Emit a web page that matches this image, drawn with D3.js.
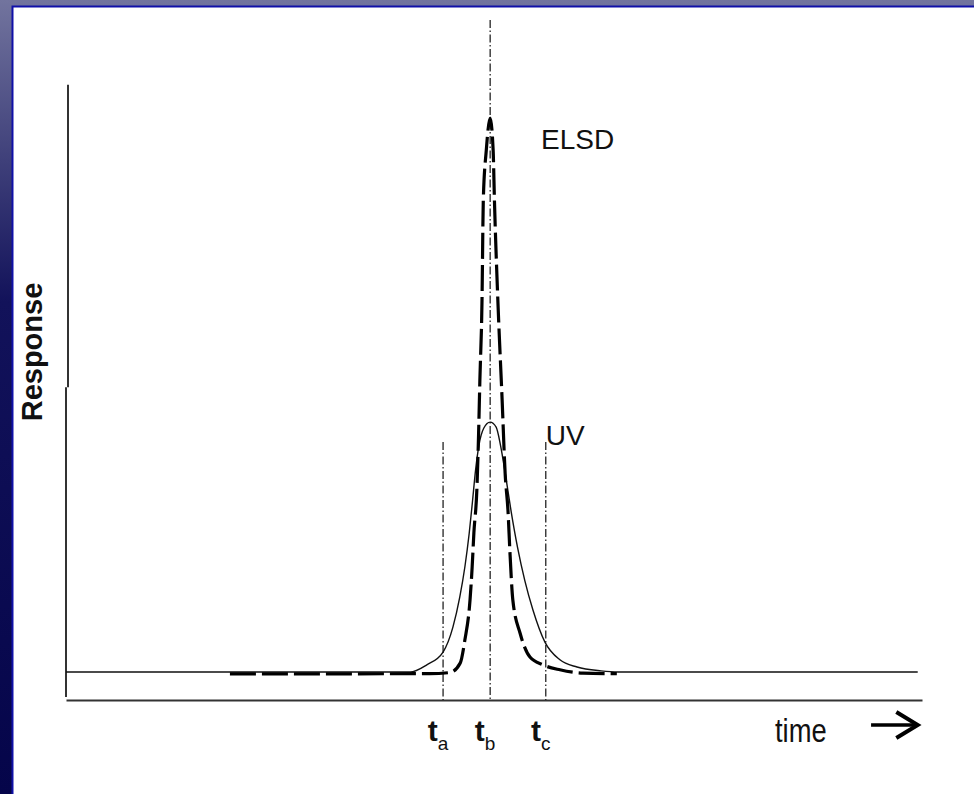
<!DOCTYPE html>
<html>
<head>
<meta charset="utf-8">
<script src="https://cdn.jsdelivr.net/npm/d3@7"></script>
<style>
  html, body { margin: 0; padding: 0; background: #0a0a50; }
  svg { display: block; }
</style>
</head>
<body>
<div id="chart"></div>
<script>
// ---- data (time in min, response in % of ELSD peak) ----
const uvTime = [0, 8.04, 8.43, 8.81, 9.04, 9.20, 9.32, 9.42, 9.50, 9.57, 9.65, 9.76, 9.91, 10.05, 10.15, 10.27, 10.40, 10.55, 10.72, 10.91, 11.19, 11.54, 11.94, 12.5, 12.9, 19.9];
const uvResp = [0, 0, 1.3, 3.6, 8.1, 13.5, 19.0, 25.0, 31.0, 36.5, 41.0, 44.0, 45.1, 44.2, 41.0, 35.5, 29.0, 22.5, 16.5, 11.2, 5.4, 2.2, 0.9, 0.2, 0, 0];

const elsdTime = [3.83, 8.50, 8.97, 9.21, 9.32, 9.44, 9.49, 9.53, 9.60, 9.64, 9.67, 9.72, 9.75, 9.82, 9.91, 9.98, 10.01, 10.09, 10.19, 10.26, 10.33, 10.37, 10.44, 10.61, 10.84, 11.14, 11.54, 12.08, 12.87];
const elsdResp = [-0.35, -0.3, -0.1, 1.6, 5.8, 13.0, 19.0, 25.1, 33.0, 43.0, 52.7, 67.1, 85.2, 94.2, 100, 94.2, 85.2, 67.1, 49.1, 35.9, 28.7, 22.0, 13.0, 7.0, 2.7, 1.3, 0.4, -0.2, -0.3];

const markerKeys = ["a", "b", "c"];
const markerTime = [8.81, 9.91, 11.21];
const markerTop = [41.5, 117.7, 41.5];

const seriesNames = ["ELSD", "UV"];
const axisTitleY = "Response";
const axisTitleX = "time";

// ---- layout ----
const W = 974, H = 794;
const x = d3.scaleLinear().domain([0, 20]).range([66, 922]);
const y = d3.scaleLinear().domain([0, 100]).range([672, 118]);

const svg = d3.select("#chart").append("svg").attr("width", W).attr("height", H);
const defs = svg.append("defs");
const g = defs.append("linearGradient").attr("id", "bg").attr("x1", 0).attr("y1", 0).attr("x2", 0).attr("y2", 1);
g.append("stop").attr("offset", 0).attr("stop-color", "#72749e");
g.append("stop").attr("offset", 0.38).attr("stop-color", "#12125a");
g.append("stop").attr("offset", 1).attr("stop-color", "#05054a");

svg.append("rect").attr("width", W).attr("height", H).attr("fill", "url(#bg)");
svg.append("rect").attr("x", 12.5).attr("y", 6.5).attr("width", W).attr("height", H)
  .attr("fill", "#ffffff").attr("stroke", "#1010a8").attr("stroke-width", 2);

const ink = "#111";

// y axis (two offset segments, as in the original drawing)
svg.append("line").attr("x1", x(0) + 2).attr("x2", x(0) + 2).attr("y1", y(106)).attr("y2", y(51.4))
  .attr("stroke", "#333").attr("stroke-width", 2);
svg.append("line").attr("x1", x(0)).attr("x2", x(0)).attr("y1", y(51.4)).attr("y2", y(-4.5))
  .attr("stroke", "#333").attr("stroke-width", 2);

// x axis
const xAxis = d3.axisBottom(x).tickValues([]).tickSizeOuter(0);
const xg = svg.append("g").attr("transform", `translate(0,${y(-5.05)})`).call(xAxis);
xg.select(".domain").attr("stroke", "#333").attr("stroke-width", 2);

// marker lines
markerKeys.forEach((k, i) => {
  svg.append("line")
    .attr("x1", x(markerTime[i])).attr("x2", x(markerTime[i]))
    .attr("y1", y(markerTop[i])).attr("y2", y(-5.05))
    .attr("stroke", ink).attr("stroke-width", 1.2)
    .attr("stroke-dasharray", "8,2.5,1.5,2.5");
});

const uvData = uvTime.map((t, i) => [t, uvResp[i]]);
const elsdData = elsdTime.map((t, i) => [t, elsdResp[i]]);
const line = d3.line().x(d => x(d[0])).y(d => y(d[1])).curve(d3.curveMonotoneX);

// UV curve (solid thin)
svg.append("path").datum(uvData).attr("d", line)
  .attr("fill", "none").attr("stroke", ink).attr("stroke-width", 1.4);

// ELSD curve (thick dashed)
svg.append("path").datum(elsdData).attr("d", line)
  .attr("fill", "none").attr("stroke", "#000").attr("stroke-width", 3.2)
  .attr("stroke-dasharray", "26,6");

// series labels
svg.append("text").attr("x", x(11.10)).attr("y", y(94.4))
  .attr("font-family", "Liberation Sans, Arial, sans-serif").attr("font-size", 28)
  .attr("fill", ink).text(seriesNames[0]);
svg.append("text").attr("x", x(11.21)).attr("y", y(41))
  .attr("font-family", "Liberation Sans, Arial, sans-serif").attr("font-size", 28)
  .attr("fill", ink).text(seriesNames[1]);

// marker labels t_a, t_b, t_c
markerKeys.forEach((k, i) => {
  const t = svg.append("text")
    .attr("x", x(markerTime[i]) - 5).attr("y", 741)
    .attr("text-anchor", "middle")
    .attr("font-family", "Liberation Sans, Arial, sans-serif").attr("fill", ink);
  t.append("tspan").attr("font-size", 30).attr("font-weight", "bold").text("t");
  t.append("tspan").attr("font-size", 19).attr("dy", 9).text(k);
});

// axis titles
svg.append("text").attr("transform", `translate(42,352) rotate(-90)`)
  .attr("text-anchor", "middle")
  .attr("font-family", "Liberation Sans, Arial, sans-serif").attr("font-size", 29).attr("font-weight", "bold")
  .attr("fill", ink).text(axisTitleY);

svg.append("text").attr("transform", `translate(775,742) scale(0.83,1)`)
  .attr("font-family", "Liberation Sans, Arial, sans-serif").attr("font-size", 33)
  .attr("fill", ink).text(axisTitleX);

// arrow
const ay = 725;
svg.append("line").attr("x1", x(18.81)).attr("x2", x(19.88)).attr("y1", ay).attr("y2", ay)
  .attr("stroke", "#000").attr("stroke-width", 3.5);
svg.append("path")
  .attr("d", `M${x(19.4)},${ay - 13} L${x(19.9)},${ay} L${x(19.4)},${ay + 13}`)
  .attr("fill", "none").attr("stroke", "#000").attr("stroke-width", 4).attr("stroke-linejoin", "miter");
</script>
</body>
</html>
